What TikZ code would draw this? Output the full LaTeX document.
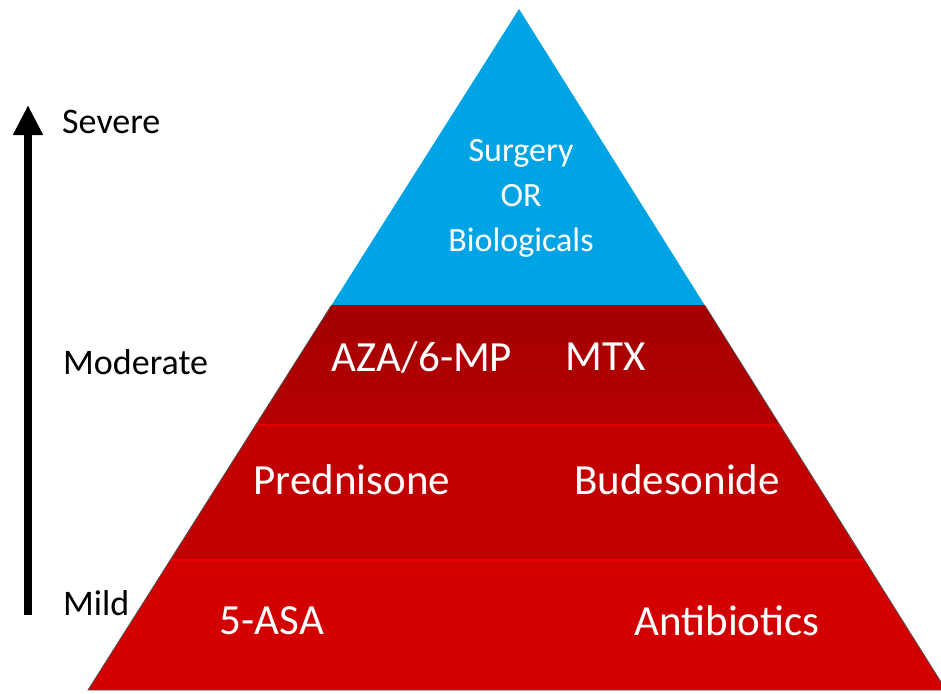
\documentclass[tikz,border=0pt]{standalone}
\usepackage{fontspec}
\setmainfont{Carlito}
\usetikzlibrary{arrows.meta}
\definecolor{topblue}{HTML}{00A3E4}
\definecolor{redA}{HTML}{A30000}
\definecolor{redB}{HTML}{B50000}
\definecolor{redC}{HTML}{C20000}
\definecolor{redD}{HTML}{D20000}
\definecolor{lineC}{HTML}{DC0000}
\definecolor{lineD}{HTML}{EE0000}
\definecolor{edgegray}{HTML}{505050}
\tikzset{
  wlabel/.style={text=white, font=\fontsize{43}{46}\selectfont, inner sep=0pt},
  blabel/.style={text=white, font=\fontsize{34}{45}\selectfont, align=center, inner sep=0pt},
  sevlabel/.style={text=black, font=\fontsize{36}{38}\selectfont, anchor=west, inner sep=0pt},
}
\begin{document}
\begin{tikzpicture}[x=1pt,y=-1pt]
\useasboundingbox (0,0) rectangle (941,693);
\clip (0,0) rectangle (941,693);
\coordinate (apex) at (519,9);
\coordinate (bl) at (88,690);
\coordinate (br) at (946,690);
\fill[topblue] (apex) -- (331.6,305) -- (704.6,305) -- cycle;
\shade[top color=redA, bottom color=redB] (331.6,305) -- (704.6,305) -- (779.8,425) -- (255.7,425) -- cycle;
\fill[redC] (255.7,425) -- (779.8,425) -- (864.4,560) -- (170.3,560) -- cycle;
\fill[redD] (170.3,560) -- (864.4,560) -- (br) -- (bl) -- cycle;
\draw[lineC, line width=1.2pt] (255.7,425) -- (779.8,425);
\draw[lineD, line width=1.5pt] (170.3,560) -- (864.4,560);
\draw[edgegray, line width=0.8pt] (331.6,305) -- (bl) -- (br) -- (704.6,305);
\node[blabel] (surg) at (521,198) {Surgery\\OR\\Biologicals};
\node[wlabel] (aza) at (422,357) {AZA/6-MP};
\node[wlabel] (mtx) at (606,357) {MTX};
\node[wlabel] (pred) at (352,480) {Prednisone};
\node[wlabel] (bude) at (677,480) {Budesonide};
\node[wlabel] (asa) at (272,621) {5-ASA};
\node[wlabel] (anti) at (727,621) {Antibiotics};
\coordinate (arrlow) at (28,615);
\coordinate (arrhigh) at (28,105);
\draw[line width=8pt, -{Triangle[width=28pt,length=30pt]}] (arrlow) -- (arrhigh);
\node[sevlabel] (sev) at (62,122) {Severe};
\node[sevlabel] (mod) at (63,362) {Moderate};
\node[sevlabel] (mild) at (63,603) {Mild};
\end{tikzpicture}
\end{document}
